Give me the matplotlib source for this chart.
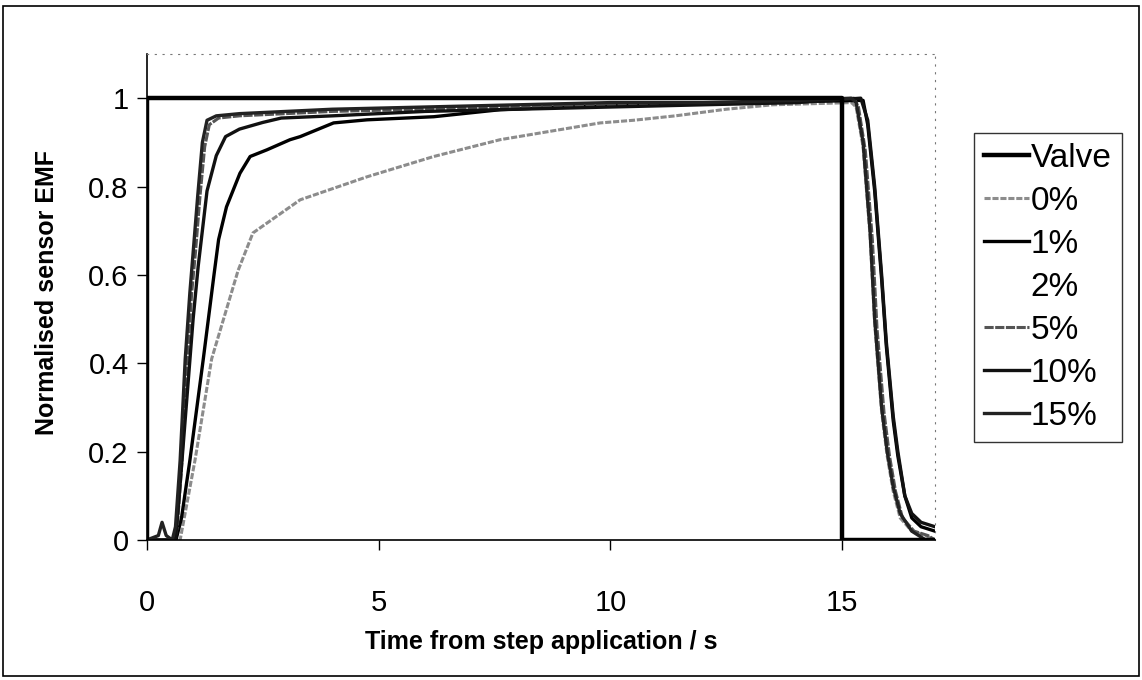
import matplotlib
matplotlib.use("Agg")
import matplotlib.pyplot as plt
from matplotlib.patches import Rectangle

plt.rcParams['font.family'] = ['Liberation Sans', 'DejaVu Sans']

# valve step
valve_t = [0, 0, 15, 15, 17]
valve_y = [0, 1, 1, 0, 0]

# fastest pair
t_15 = [0, 0.25, 0.33, 0.42, 0.55, 0.62, 0.72, 0.83, 0.93, 1.0, 1.1, 1.2, 1.3, 1.5, 2, 3, 4, 6, 8, 10, 12, 14,
        15.2, 15.3, 15.45, 15.6, 15.7, 15.85, 15.97, 16.1, 16.25, 16.5, 16.8, 17]
y_15 = [0, 0.01, 0.04, 0.01, 0.0, 0.03, 0.18, 0.41, 0.56, 0.65, 0.78, 0.9, 0.95, 0.96, 0.965, 0.97, 0.975, 0.98,
        0.985, 0.99, 0.99, 0.995, 1.0, 0.99, 0.9, 0.7, 0.5, 0.3, 0.2, 0.12, 0.06, 0.02, 0.0, 0.0]

t_5 = [0, 0.6, 0.66, 0.76, 0.87, 0.97, 1.05, 1.15, 1.25, 1.35, 1.55, 2, 3, 4, 6, 8, 10, 12, 14,
       15.25, 15.35, 15.5, 15.65, 15.75, 15.9, 16.02, 16.15, 16.3, 16.55, 16.85, 17]
y_5 = [0, 0, 0.03, 0.18, 0.4, 0.56, 0.65, 0.78, 0.89, 0.94, 0.955, 0.96, 0.965, 0.97, 0.975, 0.98, 0.985,
       0.99, 0.99, 1.0, 0.98, 0.88, 0.68, 0.48, 0.29, 0.19, 0.11, 0.05, 0.02, 0.01, 0.0]

# second curve
t_10 = [0, 0.62, 0.7, 0.85, 1.0, 1.11, 1.3, 1.5, 1.7, 2.0, 2.5, 2.9, 4, 6, 8, 10, 12, 14,
        15.4, 15.55, 15.7, 15.85, 15.95, 16.1, 16.2, 16.35, 16.5, 16.7, 17]
y_10 = [0, 0, 0.1, 0.3, 0.5, 0.62, 0.79, 0.87, 0.913, 0.93, 0.945, 0.955, 0.96, 0.97, 0.975, 0.98, 0.985,
        0.99, 1.0, 0.95, 0.8, 0.6, 0.45, 0.28, 0.2, 0.1, 0.06, 0.04, 0.03]

# third curve
t_1 = [0, 0.63, 0.75, 0.93, 1.22, 1.45, 1.55, 1.72, 2.01, 2.23, 2.59, 3.09, 3.31, 4.03, 4.75, 6.19, 7.63,
       9, 11, 13, 15.45, 15.55, 15.7, 15.85, 15.95, 16.1, 16.2, 16.35, 16.5, 16.7, 17]
y_1 = [0, 0, 0.05, 0.18, 0.41, 0.6, 0.68, 0.754, 0.83, 0.868, 0.883, 0.906, 0.913, 0.944, 0.951, 0.958,
       0.974, 0.98, 0.985, 0.99, 0.995, 0.94, 0.79, 0.59, 0.44, 0.27, 0.19, 0.1, 0.05, 0.03, 0.02]

# slowest curve
t_0 = [0, 0.72, 1.04, 1.4, 1.97, 2.29, 3.31, 4.75, 6.19, 7.62, 9.78, 10.5, 11.4, 12.5, 13.5, 15.2,
       15.3, 15.45, 15.6, 15.7, 15.85, 15.97, 16.1, 16.25, 16.5, 16.8, 17]
y_0 = [0, 0, 0.18, 0.41, 0.61, 0.695, 0.77, 0.822, 0.868, 0.906, 0.944, 0.95, 0.96, 0.975, 0.985, 0.99,
       0.98, 0.89, 0.69, 0.49, 0.29, 0.19, 0.11, 0.05, 0.02, 0.01, 0.0]

x_ticks = [0, 5, 10, 15]
y_ticks = [0, 0.2, 0.4, 0.6, 0.8, 1]
y_tick_labels = ["0", "0.2", "0.4", "0.6", "0.8", "1"]

fig = plt.figure(figsize=(11.42, 6.8), dpi=100)
ax = fig.add_axes([0.1285, 0.2059, 0.8187 - 0.1285, 0.9206 - 0.2059])

ax.plot(valve_t, valve_y, color='black', lw=3.2, label='Valve', zorder=5)
ax.plot(t_0, y_0, color='#8c8c8c', lw=2.2, ls=(0, (2, 0.6)), label='0%')
ax.plot(t_1, y_1, color='black', lw=2.4, label='1%')
ax.plot([], [], color='white', lw=2.4, label='2%')
ax.plot(t_5, y_5, color='#555555', lw=2.2, ls=(0, (3, 0.5)), label='5%')
ax.plot(t_10, y_10, color='#111111', lw=2.4, label='10%')
ax.plot(t_15, y_15, color='#222222', lw=2.4, label='15%')

ax.set_xlim(0, 17)
ax.set_ylim(0, 1.1)
ax.set_xticks(x_ticks)
ax.set_yticks(y_ticks)
ax.set_yticklabels(y_tick_labels)
ax.tick_params(axis='x', direction='out', length=7, width=1, labelsize=21, pad=28)
ax.tick_params(axis='y', direction='out', length=7, width=1, labelsize=21, pad=6)

for side in ['top', 'right']:
    ax.spines[side].set_linestyle((0, (1, 6)))
    ax.spines[side].set_color('#777777')
    ax.spines[side].set_linewidth(0.8)
ax.spines['left'].set_linewidth(1.2)
ax.spines['bottom'].set_linewidth(1.2)

ax.set_xlabel('Time from step application / s', fontsize=18, fontweight='bold')
ax.xaxis.set_label_coords(0.5, -0.185)
ax.set_ylabel('Normalised sensor EMF', fontsize=18, fontweight='bold')
ax.yaxis.label.set_va('center')
ax.yaxis.set_label_coords(-0.127, 0.51)

leg = fig.legend(loc='upper left', bbox_to_anchor=(0.853, 0.805), fontsize=24, frameon=True,
                 fancybox=False, edgecolor='black', handlelength=1.35, handletextpad=0.05,
                 labelspacing=0.36, borderpad=0.3, borderaxespad=0)
leg.get_frame().set_linewidth(1.0)

# outer frame
fig.patches.append(Rectangle((0.003, 0.006), 0.994, 0.985, transform=fig.transFigure,
                             fill=False, edgecolor='black', lw=1.2))

fig.savefig('out.png', dpi=100)
